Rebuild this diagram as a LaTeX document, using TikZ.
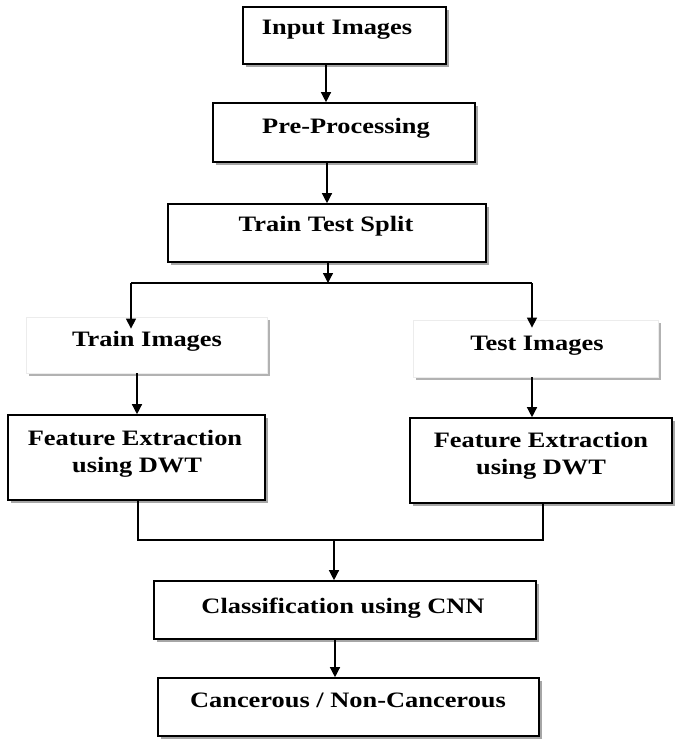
\documentclass[tikz,border=0pt]{standalone}
\usepackage{fontspec}
\setmainfont{Liberation Serif}[FakeStretch=1.2]
\usetikzlibrary{arrows.meta,shadows,calc}
\begin{document}
\begin{tikzpicture}[x=1pt,y=-1pt,
  box/.style={draw=black,line width=1.6pt,fill=white,rectangle,inner sep=0pt,
    drop shadow={shadow xshift=3pt,shadow yshift=-3pt,fill=black,opacity=0.35}},
  softbox/.style={draw=gray!15,line width=0.8pt,fill=white,rectangle,inner sep=0pt,
    drop shadow={shadow xshift=3pt,shadow yshift=-3pt,fill=black,opacity=0.3}},
  lbl/.style={font=\bfseries\fontsize{22}{27}\selectfont,inner sep=0pt,anchor=base,align=center},
  arr/.style={line width=1.3pt,-{Triangle[length=10pt,width=10pt]}},
  ln/.style={line width=1.3pt}]
\useasboundingbox (0,0) rectangle (685,749);
% boxes
\node[box,minimum width=203pt,minimum height=57pt] (input) at (344.5,35.5) {};
\node[box,minimum width=262pt,minimum height=59pt] (pre) at (344,132.5) {};
\node[box,minimum width=318pt,minimum height=58pt] (split) at (327,233) {};
\node[softbox,minimum width=241pt,minimum height=56pt] (trainimg) at (146.5,345) {};
\node[softbox,minimum width=245pt,minimum height=57pt] (testimg) at (535.5,348.5) {};
\node[box,minimum width=257pt,minimum height=85pt] (featL) at (136.5,457.5) {};
\node[box,minimum width=262pt,minimum height=85pt] (featR) at (541,460.5) {};
\node[box,minimum width=382pt,minimum height=58pt] (classify) at (345,610) {};
\node[box,minimum width=381pt,minimum height=58pt] (result) at (348.5,707) {};
% texts
\node[lbl] (tinput) at (337,35) {Input Images};
\node[lbl] (tpre) at (346,133) {Pre-Processing};
\node[lbl] (tsplit) at (326,231) {Train Test Split};
\node[lbl] (ttrain) at (147,346) {Train Images};
\node[lbl] (ttest) at (537,350) {Test Images};
\node[lbl] (tfeatL1) at (135,445) {Feature Extraction};
\node[lbl] (tfeatL2) at (137,472) {using DWT};
\node[lbl] (tfeatR1) at (541,447) {Feature Extraction};
\node[lbl] (tfeatR2) at (541,474) {using DWT};
\node[lbl] (tclass) at (343,613) {Classification using CNN};
\node[lbl] (tres) at (348,707) {Cancerous / Non-Cancerous};
% junction coordinates
\coordinate (j1) at (328,283);
\coordinate (sl) at (131,283);
\coordinate (sr) at (532,283);
\coordinate (ml) at (138,540);
\coordinate (mr) at (543,540);
\coordinate (j2) at (334,540);
\coordinate (j3) at (335,660);
% connectors
\draw[arr] ([xshift=-18.5pt]input.south) -- ([xshift=-18.5pt]input.south |- pre.north);
\draw[arr] ([xshift=-17pt]pre.south) -- ([xshift=-17pt]pre.south |- split.north);
\draw[arr] (split.south -| j1) -- (j1);
\draw[ln] (sl) -- (sr);
\draw[arr] (sl) -- ($(trainimg.north -| sl)+(0,12)$);
\draw[arr] (sr) -- ($(testimg.north -| sr)+(0,8)$);
\draw[arr] ([xshift=-9.5pt]trainimg.south) -- ([xshift=-9.5pt]trainimg.south |- featL.north);
\draw[arr] (testimg.south -| sr) -- (featR.north -| sr);
\draw[ln] (featL.south -| ml) -- (ml) -- (mr) -- (featR.south -| mr);
\draw[arr] (j2) -- (classify.north -| j2);
\draw[arr] (classify.south -| j3) -- (result.north -| j3);
\end{tikzpicture}
\end{document}
